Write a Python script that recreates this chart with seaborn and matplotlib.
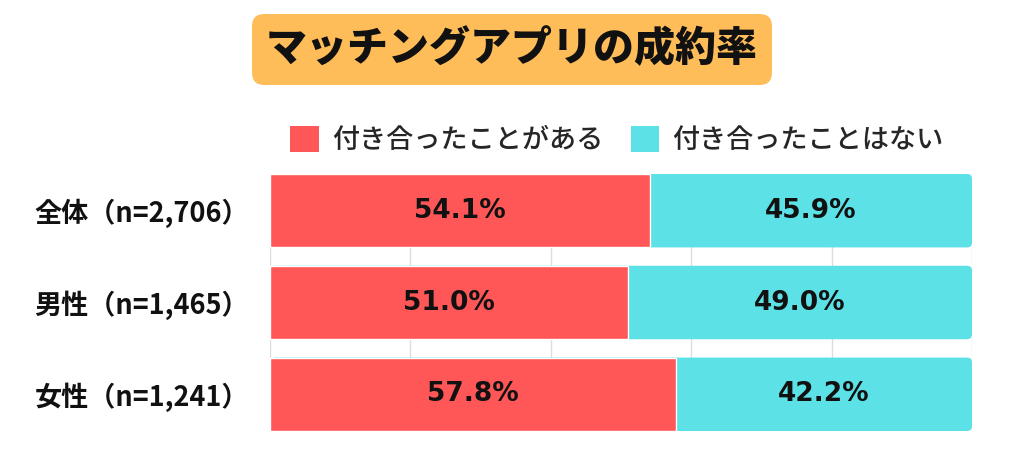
import matplotlib
matplotlib.use('Agg')
import matplotlib.pyplot as plt
from matplotlib.patches import FancyBboxPatch, Patch
import pandas as pd
import seaborn as sns

# データ
groups = ['全体（n=2,706）', '男性（n=1,465）', '女性（n=1,241）']
yes_pct = [54.1, 51.0, 57.8]   # 付き合ったことがある
no_pct = [45.9, 49.0, 42.2]    # 付き合ったことはない
legend_labels = ['付き合ったことがある', '付き合ったことはない']
title = 'マッチングアプリの成約率'

red = '#FF5757'
cyan = '#5CE1E6'
orange = '#FFBD59'

df = pd.DataFrame({'group': groups, 'yes': yes_pct, 'no': no_pct})
df['total'] = df['yes'] + df['no']

sns.set_theme(style='white')
plt.rcParams['font.family'] = ['Noto Sans CJK JP', 'DejaVu Sans']

fig = plt.figure(figsize=(10.24, 4.69), dpi=100)
ax = fig.add_axes([270 / 1024, 1 - 431 / 469, 702 / 1024, 257 / 469])

# 積み上げ：全体(水色)の上に赤を重ねる
sns.barplot(data=df, x='total', y='group', color=cyan, width=0.8, saturation=1, ax=ax)
sns.barplot(data=df, x='yes', y='group', color=red, width=0.8, saturation=1, ax=ax)

ax.set_xlim(0, 100)
ax.set_ylim(2.4, -0.4)

# 水色バーの角を丸くする
aspect = (2.8 / 257) / (100 / 702)
for bar in ax.containers[0]:
    bar.set_visible(False)
    fancy = FancyBboxPatch((bar.get_x(), bar.get_y()), bar.get_width(), bar.get_height(),
                           boxstyle='round,pad=0,rounding_size=0.7', mutation_aspect=aspect,
                           fc=cyan, ec='none', zorder=2)
    ax.add_patch(fancy)
for bar in ax.containers[1]:
    bar.set_zorder(3)

# ラベル
for i, (y, n) in enumerate(zip(yes_pct, no_pct)):
    ax.text(y / 2, i, f'{y:.1f}%', ha='center', va='center', fontsize=19,
            fontweight='bold', family='DejaVu Sans', color='#111111', zorder=4)
    ax.text(y + n / 2, i, f'{n:.1f}%', ha='center', va='center', fontsize=19,
            fontweight='bold', family='DejaVu Sans', color='#111111', zorder=4)

ax.set_xticks([0, 20, 40, 60, 80, 100])
ax.set_xticklabels([])
ax.grid(axis='x', color='#dddddd', linewidth=1)
ax.set_axisbelow(True)
ax.set_xlabel('')
ax.set_ylabel('')
ax.tick_params(axis='both', length=0)
ax.tick_params(axis='y', pad=15, labelsize=19.5)
for lab in ax.get_yticklabels():
    lab.set_fontweight('bold')
    lab.set_color('#111111')
for s in ax.spines.values():
    s.set_visible(False)

# タイトル（オレンジの角丸ボックス）
fig.patches.append(FancyBboxPatch((252 / 1024, 1 - 85 / 469), 520 / 1024, 71 / 469,
                                  boxstyle='round,pad=0,rounding_size=0.012',
                                  mutation_aspect=1024 / 469, transform=fig.transFigure,
                                  fc=orange, ec='none', zorder=0))
fig.text(512 / 1024, 1 - 49 / 469, title, ha='center', va='center', fontsize=29.5,
         fontweight='black', color='#111111')

# 凡例
handles = [Patch(facecolor=red, edgecolor='none'), Patch(facecolor=cyan, edgecolor='none')]
fig.legend(handles, legend_labels, loc='center', bbox_to_anchor=(617 / 1024, 1 - 140 / 469),
           ncol=2, frameon=False, prop={'size': 19.5, 'weight': 'medium'},
           handlelength=1.05, handleheight=1.1, handletextpad=0.5, columnspacing=1.0)

fig.savefig('out.png', dpi=100)
